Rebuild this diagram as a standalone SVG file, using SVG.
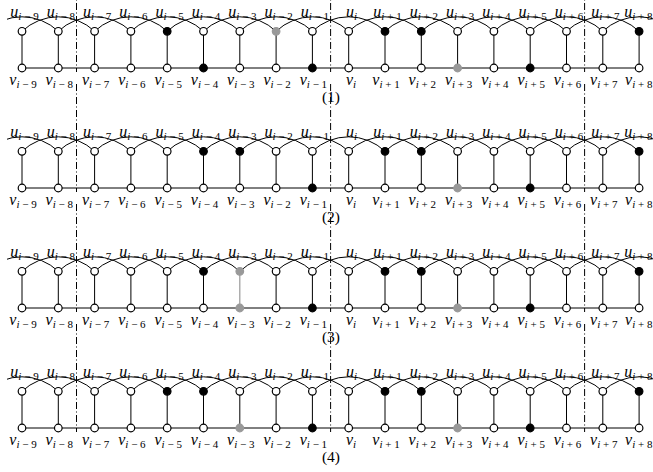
<svg xmlns="http://www.w3.org/2000/svg" width="653" height="472" viewBox="0 0 653 472">
<style>
.a{stroke:#000;stroke-width:1;fill:none}
.e{stroke:#000;stroke-width:1;fill:none}
.eg{stroke:#999;stroke-width:1.2}
.dd{stroke:#000;stroke-width:1;fill:none;stroke-dasharray:7 2.5 1 2.5}
circle{stroke-width:1.2}
circle.w{fill:#fff;stroke:#000}
circle.b{fill:#000;stroke:#000}
circle.g{fill:#999;stroke:#999}
text{font-family:"Liberation Serif","Times New Roman",serif;fill:#000;text-anchor:middle}
text.r{text-anchor:end}
.m{font-style:italic;font-size:16px}
.s{font-style:italic;font-size:11px}
.o{font-style:normal;font-size:11px}
.pl{font-size:15.5px}
</style>
<defs>
<clipPath id="clipL"><rect x="7" y="-60" width="700" height="200"/></clipPath>
</defs>
<rect width="653" height="472" fill="#fff"/>

<!-- ================= PANEL 1 ================= -->
<g id="panel1" transform="translate(0,0)">
<g id="p1-connectors">
<path class="a" clip-path="url(#clipL)" d="M-14.3 31.3A52.7 52.7 0 0 1 58.3 31.3M22 31.3A52.7 52.7 0 0 1 94.6 31.3M58.3 31.3A52.7 52.7 0 0 1 130.9 31.3M94.6 31.3A52.7 52.7 0 0 1 167.2 31.3M130.9 31.3A52.7 52.7 0 0 1 203.5 31.3M167.2 31.3A52.7 52.7 0 0 1 239.8 31.3M203.5 31.3A52.7 52.7 0 0 1 276.1 31.3M239.8 31.3A52.7 52.7 0 0 1 312.4 31.3M276.1 31.3A52.7 52.7 0 0 1 348.7 31.3M312.4 31.3A52.7 52.7 0 0 1 385 31.3M348.7 31.3A52.7 52.7 0 0 1 421.3 31.3M385 31.3A52.7 52.7 0 0 1 457.6 31.3M421.3 31.3A52.7 52.7 0 0 1 493.9 31.3M457.6 31.3A52.7 52.7 0 0 1 530.2 31.3M493.9 31.3A52.7 52.7 0 0 1 566.5 31.3M530.2 31.3A52.7 52.7 0 0 1 602.8 31.3M566.5 31.3A52.7 52.7 0 0 1 639.1 31.3M602.8 31.3A52.7 52.7 0 0 1 675.4 31.3"/>
<path class="e" d="M22 68H639.1"/>
<path class="e" d="M22 31.3V68M58.3 31.3V68M94.6 31.3V68M130.9 31.3V68M167.2 31.3V68M203.5 31.3V68M239.8 31.3V68M276.1 31.3V68M312.4 31.3V68M348.7 31.3V68M385 31.3V68M421.3 31.3V68M457.6 31.3V68M493.9 31.3V68M530.2 31.3V68M566.5 31.3V68M602.8 31.3V68M639.1 31.3V68"/>
<path class="dd" d="M76.5 -36V72M330.6 -36V72M584.6 -36V72"/>
</g>
<g id="p1-u-m9"><circle class="w" cx="22" cy="31.3" r="3.8"/><text x="24.5" y="16.7"><tspan class="m">u</tspan><tspan class="s" dy="3.3">i</tspan><tspan class="o"> − 9</tspan></text></g>
<g id="p1-u-m8"><circle class="w" cx="58.3" cy="31.3" r="3.8"/><text x="60.8" y="16.7"><tspan class="m">u</tspan><tspan class="s" dy="3.3">i</tspan><tspan class="o"> − 8</tspan></text></g>
<g id="p1-u-m7"><circle class="w" cx="94.6" cy="31.3" r="3.8"/><text x="97.1" y="16.7"><tspan class="m">u</tspan><tspan class="s" dy="3.3">i</tspan><tspan class="o"> − 7</tspan></text></g>
<g id="p1-u-m6"><circle class="w" cx="130.9" cy="31.3" r="3.8"/><text x="133.4" y="16.7"><tspan class="m">u</tspan><tspan class="s" dy="3.3">i</tspan><tspan class="o"> − 6</tspan></text></g>
<g id="p1-u-m5"><circle class="b" cx="167.2" cy="31.3" r="3.8"/><text x="169.7" y="16.7"><tspan class="m">u</tspan><tspan class="s" dy="3.3">i</tspan><tspan class="o"> − 5</tspan></text></g>
<g id="p1-u-m4"><circle class="w" cx="203.5" cy="31.3" r="3.8"/><text x="206" y="16.7"><tspan class="m">u</tspan><tspan class="s" dy="3.3">i</tspan><tspan class="o"> − 4</tspan></text></g>
<g id="p1-u-m3"><circle class="w" cx="239.8" cy="31.3" r="3.8"/><text x="242.3" y="16.7"><tspan class="m">u</tspan><tspan class="s" dy="3.3">i</tspan><tspan class="o"> − 3</tspan></text></g>
<g id="p1-u-m2"><circle class="g" cx="276.1" cy="31.3" r="3.8"/><text x="278.6" y="16.7"><tspan class="m">u</tspan><tspan class="s" dy="3.3">i</tspan><tspan class="o"> − 2</tspan></text></g>
<g id="p1-u-m1"><circle class="w" cx="312.4" cy="31.3" r="3.8"/><text x="314.9" y="16.7"><tspan class="m">u</tspan><tspan class="s" dy="3.3">i</tspan><tspan class="o"> − 1</tspan></text></g>
<g id="p1-u-0"><circle class="w" cx="348.7" cy="31.3" r="3.8"/><text x="351.5" y="16.7"><tspan class="m">u</tspan><tspan class="s" dy="3.3">i</tspan></text></g>
<g id="p1-u-p1"><circle class="b" cx="385" cy="31.3" r="3.8"/><text x="387.5" y="16.7"><tspan class="m">u</tspan><tspan class="s" dy="3.3">i</tspan><tspan class="o"> + 1</tspan></text></g>
<g id="p1-u-p2"><circle class="b" cx="421.3" cy="31.3" r="3.8"/><text x="423.8" y="16.7"><tspan class="m">u</tspan><tspan class="s" dy="3.3">i</tspan><tspan class="o"> + 2</tspan></text></g>
<g id="p1-u-p3"><circle class="w" cx="457.6" cy="31.3" r="3.8"/><text x="460.1" y="16.7"><tspan class="m">u</tspan><tspan class="s" dy="3.3">i</tspan><tspan class="o"> + 3</tspan></text></g>
<g id="p1-u-p4"><circle class="w" cx="493.9" cy="31.3" r="3.8"/><text x="496.4" y="16.7"><tspan class="m">u</tspan><tspan class="s" dy="3.3">i</tspan><tspan class="o"> + 4</tspan></text></g>
<g id="p1-u-p5"><circle class="w" cx="530.2" cy="31.3" r="3.8"/><text x="532.7" y="16.7"><tspan class="m">u</tspan><tspan class="s" dy="3.3">i</tspan><tspan class="o"> + 5</tspan></text></g>
<g id="p1-u-p6"><circle class="w" cx="566.5" cy="31.3" r="3.8"/><text x="569" y="16.7"><tspan class="m">u</tspan><tspan class="s" dy="3.3">i</tspan><tspan class="o"> + 6</tspan></text></g>
<g id="p1-u-p7"><circle class="w" cx="602.8" cy="31.3" r="3.8"/><text x="605.3" y="16.7"><tspan class="m">u</tspan><tspan class="s" dy="3.3">i</tspan><tspan class="o"> + 7</tspan></text></g>
<g id="p1-u-p8"><circle class="b" cx="639.1" cy="31.3" r="3.8"/><text class="r" x="652.5" y="16.7"><tspan class="m">u</tspan><tspan class="s" dy="3.3">i</tspan><tspan class="o"> + 8</tspan></text></g>
<g id="p1-v-m9"><circle class="w" cx="22" cy="68" r="3.8"/><text x="23" y="85"><tspan class="m">v</tspan><tspan class="s" dy="3.3">i</tspan><tspan class="o"> − 9</tspan></text></g>
<g id="p1-v-m8"><circle class="w" cx="58.3" cy="68" r="3.8"/><text x="59.3" y="85"><tspan class="m">v</tspan><tspan class="s" dy="3.3">i</tspan><tspan class="o"> − 8</tspan></text></g>
<g id="p1-v-m7"><circle class="w" cx="94.6" cy="68" r="3.8"/><text x="95.6" y="85"><tspan class="m">v</tspan><tspan class="s" dy="3.3">i</tspan><tspan class="o"> − 7</tspan></text></g>
<g id="p1-v-m6"><circle class="w" cx="130.9" cy="68" r="3.8"/><text x="131.9" y="85"><tspan class="m">v</tspan><tspan class="s" dy="3.3">i</tspan><tspan class="o"> − 6</tspan></text></g>
<g id="p1-v-m5"><circle class="w" cx="167.2" cy="68" r="3.8"/><text x="168.2" y="85"><tspan class="m">v</tspan><tspan class="s" dy="3.3">i</tspan><tspan class="o"> − 5</tspan></text></g>
<g id="p1-v-m4"><circle class="b" cx="203.5" cy="68" r="3.8"/><text x="204.5" y="85"><tspan class="m">v</tspan><tspan class="s" dy="3.3">i</tspan><tspan class="o"> − 4</tspan></text></g>
<g id="p1-v-m3"><circle class="w" cx="239.8" cy="68" r="3.8"/><text x="240.8" y="85"><tspan class="m">v</tspan><tspan class="s" dy="3.3">i</tspan><tspan class="o"> − 3</tspan></text></g>
<g id="p1-v-m2"><circle class="w" cx="276.1" cy="68" r="3.8"/><text x="277.1" y="85"><tspan class="m">v</tspan><tspan class="s" dy="3.3">i</tspan><tspan class="o"> − 2</tspan></text></g>
<g id="p1-v-m1"><circle class="b" cx="312.4" cy="68" r="3.8"/><text x="313.4" y="85"><tspan class="m">v</tspan><tspan class="s" dy="3.3">i</tspan><tspan class="o"> − 1</tspan></text></g>
<g id="p1-v-0"><circle class="w" cx="348.7" cy="68" r="3.8"/><text x="351" y="85"><tspan class="m">v</tspan><tspan class="s" dy="3.3">i</tspan></text></g>
<g id="p1-v-p1"><circle class="w" cx="385" cy="68" r="3.8"/><text x="386" y="85"><tspan class="m">v</tspan><tspan class="s" dy="3.3">i</tspan><tspan class="o"> + 1</tspan></text></g>
<g id="p1-v-p2"><circle class="w" cx="421.3" cy="68" r="3.8"/><text x="422.3" y="85"><tspan class="m">v</tspan><tspan class="s" dy="3.3">i</tspan><tspan class="o"> + 2</tspan></text></g>
<g id="p1-v-p3"><circle class="g" cx="457.6" cy="68" r="3.8"/><text x="458.6" y="85"><tspan class="m">v</tspan><tspan class="s" dy="3.3">i</tspan><tspan class="o"> + 3</tspan></text></g>
<g id="p1-v-p4"><circle class="w" cx="493.9" cy="68" r="3.8"/><text x="494.9" y="85"><tspan class="m">v</tspan><tspan class="s" dy="3.3">i</tspan><tspan class="o"> + 4</tspan></text></g>
<g id="p1-v-p5"><circle class="b" cx="530.2" cy="68" r="3.8"/><text x="531.2" y="85"><tspan class="m">v</tspan><tspan class="s" dy="3.3">i</tspan><tspan class="o"> + 5</tspan></text></g>
<g id="p1-v-p6"><circle class="w" cx="566.5" cy="68" r="3.8"/><text x="567.5" y="85"><tspan class="m">v</tspan><tspan class="s" dy="3.3">i</tspan><tspan class="o"> + 6</tspan></text></g>
<g id="p1-v-p7"><circle class="w" cx="602.8" cy="68" r="3.8"/><text x="603.8" y="85"><tspan class="m">v</tspan><tspan class="s" dy="3.3">i</tspan><tspan class="o"> + 7</tspan></text></g>
<g id="p1-v-p8"><circle class="w" cx="639.1" cy="68" r="3.8"/><text class="r" x="652.5" y="85"><tspan class="m">v</tspan><tspan class="s" dy="3.3">i</tspan><tspan class="o"> + 8</tspan></text></g>
<text class="pl" x="331" y="102">(1)</text>
</g>

<!-- ================= PANEL 2 ================= -->
<g id="panel2" transform="translate(0,120)">
<g id="p2-connectors">
<path class="a" clip-path="url(#clipL)" d="M-14.3 31.3A52.7 52.7 0 0 1 58.3 31.3M22 31.3A52.7 52.7 0 0 1 94.6 31.3M58.3 31.3A52.7 52.7 0 0 1 130.9 31.3M94.6 31.3A52.7 52.7 0 0 1 167.2 31.3M130.9 31.3A52.7 52.7 0 0 1 203.5 31.3M167.2 31.3A52.7 52.7 0 0 1 239.8 31.3M203.5 31.3A52.7 52.7 0 0 1 276.1 31.3M239.8 31.3A52.7 52.7 0 0 1 312.4 31.3M276.1 31.3A52.7 52.7 0 0 1 348.7 31.3M312.4 31.3A52.7 52.7 0 0 1 385 31.3M348.7 31.3A52.7 52.7 0 0 1 421.3 31.3M385 31.3A52.7 52.7 0 0 1 457.6 31.3M421.3 31.3A52.7 52.7 0 0 1 493.9 31.3M457.6 31.3A52.7 52.7 0 0 1 530.2 31.3M493.9 31.3A52.7 52.7 0 0 1 566.5 31.3M530.2 31.3A52.7 52.7 0 0 1 602.8 31.3M566.5 31.3A52.7 52.7 0 0 1 639.1 31.3M602.8 31.3A52.7 52.7 0 0 1 675.4 31.3"/>
<path class="e" d="M22 68H639.1"/>
<path class="e" d="M22 31.3V68M58.3 31.3V68M94.6 31.3V68M130.9 31.3V68M167.2 31.3V68M203.5 31.3V68M239.8 31.3V68M276.1 31.3V68M312.4 31.3V68M348.7 31.3V68M385 31.3V68M421.3 31.3V68M457.6 31.3V68M493.9 31.3V68M530.2 31.3V68M566.5 31.3V68M602.8 31.3V68M639.1 31.3V68"/>
<path class="dd" d="M76.5 -36V72M330.6 -36V72M584.6 -36V72"/>
</g>
<g id="p2-u-m9"><circle class="w" cx="22" cy="31.3" r="3.8"/><text x="24.5" y="16.7"><tspan class="m">u</tspan><tspan class="s" dy="3.3">i</tspan><tspan class="o"> − 9</tspan></text></g>
<g id="p2-u-m8"><circle class="w" cx="58.3" cy="31.3" r="3.8"/><text x="60.8" y="16.7"><tspan class="m">u</tspan><tspan class="s" dy="3.3">i</tspan><tspan class="o"> − 8</tspan></text></g>
<g id="p2-u-m7"><circle class="w" cx="94.6" cy="31.3" r="3.8"/><text x="97.1" y="16.7"><tspan class="m">u</tspan><tspan class="s" dy="3.3">i</tspan><tspan class="o"> − 7</tspan></text></g>
<g id="p2-u-m6"><circle class="w" cx="130.9" cy="31.3" r="3.8"/><text x="133.4" y="16.7"><tspan class="m">u</tspan><tspan class="s" dy="3.3">i</tspan><tspan class="o"> − 6</tspan></text></g>
<g id="p2-u-m5"><circle class="w" cx="167.2" cy="31.3" r="3.8"/><text x="169.7" y="16.7"><tspan class="m">u</tspan><tspan class="s" dy="3.3">i</tspan><tspan class="o"> − 5</tspan></text></g>
<g id="p2-u-m4"><circle class="b" cx="203.5" cy="31.3" r="3.8"/><text x="206" y="16.7"><tspan class="m">u</tspan><tspan class="s" dy="3.3">i</tspan><tspan class="o"> − 4</tspan></text></g>
<g id="p2-u-m3"><circle class="b" cx="239.8" cy="31.3" r="3.8"/><text x="242.3" y="16.7"><tspan class="m">u</tspan><tspan class="s" dy="3.3">i</tspan><tspan class="o"> − 3</tspan></text></g>
<g id="p2-u-m2"><circle class="w" cx="276.1" cy="31.3" r="3.8"/><text x="278.6" y="16.7"><tspan class="m">u</tspan><tspan class="s" dy="3.3">i</tspan><tspan class="o"> − 2</tspan></text></g>
<g id="p2-u-m1"><circle class="w" cx="312.4" cy="31.3" r="3.8"/><text x="314.9" y="16.7"><tspan class="m">u</tspan><tspan class="s" dy="3.3">i</tspan><tspan class="o"> − 1</tspan></text></g>
<g id="p2-u-0"><circle class="w" cx="348.7" cy="31.3" r="3.8"/><text x="351.5" y="16.7"><tspan class="m">u</tspan><tspan class="s" dy="3.3">i</tspan></text></g>
<g id="p2-u-p1"><circle class="b" cx="385" cy="31.3" r="3.8"/><text x="387.5" y="16.7"><tspan class="m">u</tspan><tspan class="s" dy="3.3">i</tspan><tspan class="o"> + 1</tspan></text></g>
<g id="p2-u-p2"><circle class="b" cx="421.3" cy="31.3" r="3.8"/><text x="423.8" y="16.7"><tspan class="m">u</tspan><tspan class="s" dy="3.3">i</tspan><tspan class="o"> + 2</tspan></text></g>
<g id="p2-u-p3"><circle class="w" cx="457.6" cy="31.3" r="3.8"/><text x="460.1" y="16.7"><tspan class="m">u</tspan><tspan class="s" dy="3.3">i</tspan><tspan class="o"> + 3</tspan></text></g>
<g id="p2-u-p4"><circle class="w" cx="493.9" cy="31.3" r="3.8"/><text x="496.4" y="16.7"><tspan class="m">u</tspan><tspan class="s" dy="3.3">i</tspan><tspan class="o"> + 4</tspan></text></g>
<g id="p2-u-p5"><circle class="w" cx="530.2" cy="31.3" r="3.8"/><text x="532.7" y="16.7"><tspan class="m">u</tspan><tspan class="s" dy="3.3">i</tspan><tspan class="o"> + 5</tspan></text></g>
<g id="p2-u-p6"><circle class="w" cx="566.5" cy="31.3" r="3.8"/><text x="569" y="16.7"><tspan class="m">u</tspan><tspan class="s" dy="3.3">i</tspan><tspan class="o"> + 6</tspan></text></g>
<g id="p2-u-p7"><circle class="w" cx="602.8" cy="31.3" r="3.8"/><text x="605.3" y="16.7"><tspan class="m">u</tspan><tspan class="s" dy="3.3">i</tspan><tspan class="o"> + 7</tspan></text></g>
<g id="p2-u-p8"><circle class="b" cx="639.1" cy="31.3" r="3.8"/><text class="r" x="652.5" y="16.7"><tspan class="m">u</tspan><tspan class="s" dy="3.3">i</tspan><tspan class="o"> + 8</tspan></text></g>
<g id="p2-v-m9"><circle class="w" cx="22" cy="68" r="3.8"/><text x="23" y="85"><tspan class="m">v</tspan><tspan class="s" dy="3.3">i</tspan><tspan class="o"> − 9</tspan></text></g>
<g id="p2-v-m8"><circle class="w" cx="58.3" cy="68" r="3.8"/><text x="59.3" y="85"><tspan class="m">v</tspan><tspan class="s" dy="3.3">i</tspan><tspan class="o"> − 8</tspan></text></g>
<g id="p2-v-m7"><circle class="w" cx="94.6" cy="68" r="3.8"/><text x="95.6" y="85"><tspan class="m">v</tspan><tspan class="s" dy="3.3">i</tspan><tspan class="o"> − 7</tspan></text></g>
<g id="p2-v-m6"><circle class="w" cx="130.9" cy="68" r="3.8"/><text x="131.9" y="85"><tspan class="m">v</tspan><tspan class="s" dy="3.3">i</tspan><tspan class="o"> − 6</tspan></text></g>
<g id="p2-v-m5"><circle class="w" cx="167.2" cy="68" r="3.8"/><text x="168.2" y="85"><tspan class="m">v</tspan><tspan class="s" dy="3.3">i</tspan><tspan class="o"> − 5</tspan></text></g>
<g id="p2-v-m4"><circle class="w" cx="203.5" cy="68" r="3.8"/><text x="204.5" y="85"><tspan class="m">v</tspan><tspan class="s" dy="3.3">i</tspan><tspan class="o"> − 4</tspan></text></g>
<g id="p2-v-m3"><circle class="w" cx="239.8" cy="68" r="3.8"/><text x="240.8" y="85"><tspan class="m">v</tspan><tspan class="s" dy="3.3">i</tspan><tspan class="o"> − 3</tspan></text></g>
<g id="p2-v-m2"><circle class="w" cx="276.1" cy="68" r="3.8"/><text x="277.1" y="85"><tspan class="m">v</tspan><tspan class="s" dy="3.3">i</tspan><tspan class="o"> − 2</tspan></text></g>
<g id="p2-v-m1"><circle class="b" cx="312.4" cy="68" r="3.8"/><text x="313.4" y="85"><tspan class="m">v</tspan><tspan class="s" dy="3.3">i</tspan><tspan class="o"> − 1</tspan></text></g>
<g id="p2-v-0"><circle class="w" cx="348.7" cy="68" r="3.8"/><text x="351" y="85"><tspan class="m">v</tspan><tspan class="s" dy="3.3">i</tspan></text></g>
<g id="p2-v-p1"><circle class="w" cx="385" cy="68" r="3.8"/><text x="386" y="85"><tspan class="m">v</tspan><tspan class="s" dy="3.3">i</tspan><tspan class="o"> + 1</tspan></text></g>
<g id="p2-v-p2"><circle class="w" cx="421.3" cy="68" r="3.8"/><text x="422.3" y="85"><tspan class="m">v</tspan><tspan class="s" dy="3.3">i</tspan><tspan class="o"> + 2</tspan></text></g>
<g id="p2-v-p3"><circle class="g" cx="457.6" cy="68" r="3.8"/><text x="458.6" y="85"><tspan class="m">v</tspan><tspan class="s" dy="3.3">i</tspan><tspan class="o"> + 3</tspan></text></g>
<g id="p2-v-p4"><circle class="w" cx="493.9" cy="68" r="3.8"/><text x="494.9" y="85"><tspan class="m">v</tspan><tspan class="s" dy="3.3">i</tspan><tspan class="o"> + 4</tspan></text></g>
<g id="p2-v-p5"><circle class="b" cx="530.2" cy="68" r="3.8"/><text x="531.2" y="85"><tspan class="m">v</tspan><tspan class="s" dy="3.3">i</tspan><tspan class="o"> + 5</tspan></text></g>
<g id="p2-v-p6"><circle class="w" cx="566.5" cy="68" r="3.8"/><text x="567.5" y="85"><tspan class="m">v</tspan><tspan class="s" dy="3.3">i</tspan><tspan class="o"> + 6</tspan></text></g>
<g id="p2-v-p7"><circle class="w" cx="602.8" cy="68" r="3.8"/><text x="603.8" y="85"><tspan class="m">v</tspan><tspan class="s" dy="3.3">i</tspan><tspan class="o"> + 7</tspan></text></g>
<g id="p2-v-p8"><circle class="w" cx="639.1" cy="68" r="3.8"/><text class="r" x="652.5" y="85"><tspan class="m">v</tspan><tspan class="s" dy="3.3">i</tspan><tspan class="o"> + 8</tspan></text></g>
<text class="pl" x="331" y="102">(2)</text>
</g>

<!-- ================= PANEL 3 ================= -->
<g id="panel3" transform="translate(0,240)">
<g id="p3-connectors">
<path class="a" clip-path="url(#clipL)" d="M-14.3 31.3A52.7 52.7 0 0 1 58.3 31.3M22 31.3A52.7 52.7 0 0 1 94.6 31.3M58.3 31.3A52.7 52.7 0 0 1 130.9 31.3M94.6 31.3A52.7 52.7 0 0 1 167.2 31.3M130.9 31.3A52.7 52.7 0 0 1 203.5 31.3M167.2 31.3A52.7 52.7 0 0 1 239.8 31.3M203.5 31.3A52.7 52.7 0 0 1 276.1 31.3M239.8 31.3A52.7 52.7 0 0 1 312.4 31.3M276.1 31.3A52.7 52.7 0 0 1 348.7 31.3M312.4 31.3A52.7 52.7 0 0 1 385 31.3M348.7 31.3A52.7 52.7 0 0 1 421.3 31.3M385 31.3A52.7 52.7 0 0 1 457.6 31.3M421.3 31.3A52.7 52.7 0 0 1 493.9 31.3M457.6 31.3A52.7 52.7 0 0 1 530.2 31.3M493.9 31.3A52.7 52.7 0 0 1 566.5 31.3M530.2 31.3A52.7 52.7 0 0 1 602.8 31.3M566.5 31.3A52.7 52.7 0 0 1 639.1 31.3M602.8 31.3A52.7 52.7 0 0 1 675.4 31.3"/>
<path class="e" d="M22 68H639.1"/>
<path class="e" d="M22 31.3V68M58.3 31.3V68M94.6 31.3V68M130.9 31.3V68M167.2 31.3V68M203.5 31.3V68M276.1 31.3V68M312.4 31.3V68M348.7 31.3V68M385 31.3V68M421.3 31.3V68M457.6 31.3V68M493.9 31.3V68M530.2 31.3V68M566.5 31.3V68M602.8 31.3V68M639.1 31.3V68"/>
<path class="e eg" d="M239.8 31.3V68"/>
<path class="dd" d="M76.5 -36V72M330.6 -36V72M584.6 -36V72"/>
</g>
<g id="p3-u-m9"><circle class="w" cx="22" cy="31.3" r="3.8"/><text x="24.5" y="16.7"><tspan class="m">u</tspan><tspan class="s" dy="3.3">i</tspan><tspan class="o"> − 9</tspan></text></g>
<g id="p3-u-m8"><circle class="w" cx="58.3" cy="31.3" r="3.8"/><text x="60.8" y="16.7"><tspan class="m">u</tspan><tspan class="s" dy="3.3">i</tspan><tspan class="o"> − 8</tspan></text></g>
<g id="p3-u-m7"><circle class="w" cx="94.6" cy="31.3" r="3.8"/><text x="97.1" y="16.7"><tspan class="m">u</tspan><tspan class="s" dy="3.3">i</tspan><tspan class="o"> − 7</tspan></text></g>
<g id="p3-u-m6"><circle class="w" cx="130.9" cy="31.3" r="3.8"/><text x="133.4" y="16.7"><tspan class="m">u</tspan><tspan class="s" dy="3.3">i</tspan><tspan class="o"> − 6</tspan></text></g>
<g id="p3-u-m5"><circle class="w" cx="167.2" cy="31.3" r="3.8"/><text x="169.7" y="16.7"><tspan class="m">u</tspan><tspan class="s" dy="3.3">i</tspan><tspan class="o"> − 5</tspan></text></g>
<g id="p3-u-m4"><circle class="b" cx="203.5" cy="31.3" r="3.8"/><text x="206" y="16.7"><tspan class="m">u</tspan><tspan class="s" dy="3.3">i</tspan><tspan class="o"> − 4</tspan></text></g>
<g id="p3-u-m3"><circle class="g" cx="239.8" cy="31.3" r="3.8"/><text x="242.3" y="16.7"><tspan class="m">u</tspan><tspan class="s" dy="3.3">i</tspan><tspan class="o"> − 3</tspan></text></g>
<g id="p3-u-m2"><circle class="w" cx="276.1" cy="31.3" r="3.8"/><text x="278.6" y="16.7"><tspan class="m">u</tspan><tspan class="s" dy="3.3">i</tspan><tspan class="o"> − 2</tspan></text></g>
<g id="p3-u-m1"><circle class="w" cx="312.4" cy="31.3" r="3.8"/><text x="314.9" y="16.7"><tspan class="m">u</tspan><tspan class="s" dy="3.3">i</tspan><tspan class="o"> − 1</tspan></text></g>
<g id="p3-u-0"><circle class="w" cx="348.7" cy="31.3" r="3.8"/><text x="351.5" y="16.7"><tspan class="m">u</tspan><tspan class="s" dy="3.3">i</tspan></text></g>
<g id="p3-u-p1"><circle class="b" cx="385" cy="31.3" r="3.8"/><text x="387.5" y="16.7"><tspan class="m">u</tspan><tspan class="s" dy="3.3">i</tspan><tspan class="o"> + 1</tspan></text></g>
<g id="p3-u-p2"><circle class="b" cx="421.3" cy="31.3" r="3.8"/><text x="423.8" y="16.7"><tspan class="m">u</tspan><tspan class="s" dy="3.3">i</tspan><tspan class="o"> + 2</tspan></text></g>
<g id="p3-u-p3"><circle class="w" cx="457.6" cy="31.3" r="3.8"/><text x="460.1" y="16.7"><tspan class="m">u</tspan><tspan class="s" dy="3.3">i</tspan><tspan class="o"> + 3</tspan></text></g>
<g id="p3-u-p4"><circle class="w" cx="493.9" cy="31.3" r="3.8"/><text x="496.4" y="16.7"><tspan class="m">u</tspan><tspan class="s" dy="3.3">i</tspan><tspan class="o"> + 4</tspan></text></g>
<g id="p3-u-p5"><circle class="w" cx="530.2" cy="31.3" r="3.8"/><text x="532.7" y="16.7"><tspan class="m">u</tspan><tspan class="s" dy="3.3">i</tspan><tspan class="o"> + 5</tspan></text></g>
<g id="p3-u-p6"><circle class="w" cx="566.5" cy="31.3" r="3.8"/><text x="569" y="16.7"><tspan class="m">u</tspan><tspan class="s" dy="3.3">i</tspan><tspan class="o"> + 6</tspan></text></g>
<g id="p3-u-p7"><circle class="w" cx="602.8" cy="31.3" r="3.8"/><text x="605.3" y="16.7"><tspan class="m">u</tspan><tspan class="s" dy="3.3">i</tspan><tspan class="o"> + 7</tspan></text></g>
<g id="p3-u-p8"><circle class="b" cx="639.1" cy="31.3" r="3.8"/><text class="r" x="652.5" y="16.7"><tspan class="m">u</tspan><tspan class="s" dy="3.3">i</tspan><tspan class="o"> + 8</tspan></text></g>
<g id="p3-v-m9"><circle class="w" cx="22" cy="68" r="3.8"/><text x="23" y="85"><tspan class="m">v</tspan><tspan class="s" dy="3.3">i</tspan><tspan class="o"> − 9</tspan></text></g>
<g id="p3-v-m8"><circle class="w" cx="58.3" cy="68" r="3.8"/><text x="59.3" y="85"><tspan class="m">v</tspan><tspan class="s" dy="3.3">i</tspan><tspan class="o"> − 8</tspan></text></g>
<g id="p3-v-m7"><circle class="w" cx="94.6" cy="68" r="3.8"/><text x="95.6" y="85"><tspan class="m">v</tspan><tspan class="s" dy="3.3">i</tspan><tspan class="o"> − 7</tspan></text></g>
<g id="p3-v-m6"><circle class="w" cx="130.9" cy="68" r="3.8"/><text x="131.9" y="85"><tspan class="m">v</tspan><tspan class="s" dy="3.3">i</tspan><tspan class="o"> − 6</tspan></text></g>
<g id="p3-v-m5"><circle class="w" cx="167.2" cy="68" r="3.8"/><text x="168.2" y="85"><tspan class="m">v</tspan><tspan class="s" dy="3.3">i</tspan><tspan class="o"> − 5</tspan></text></g>
<g id="p3-v-m4"><circle class="w" cx="203.5" cy="68" r="3.8"/><text x="204.5" y="85"><tspan class="m">v</tspan><tspan class="s" dy="3.3">i</tspan><tspan class="o"> − 4</tspan></text></g>
<g id="p3-v-m3"><circle class="g" cx="239.8" cy="68" r="3.8"/><text x="240.8" y="85"><tspan class="m">v</tspan><tspan class="s" dy="3.3">i</tspan><tspan class="o"> − 3</tspan></text></g>
<g id="p3-v-m2"><circle class="w" cx="276.1" cy="68" r="3.8"/><text x="277.1" y="85"><tspan class="m">v</tspan><tspan class="s" dy="3.3">i</tspan><tspan class="o"> − 2</tspan></text></g>
<g id="p3-v-m1"><circle class="b" cx="312.4" cy="68" r="3.8"/><text x="313.4" y="85"><tspan class="m">v</tspan><tspan class="s" dy="3.3">i</tspan><tspan class="o"> − 1</tspan></text></g>
<g id="p3-v-0"><circle class="w" cx="348.7" cy="68" r="3.8"/><text x="351" y="85"><tspan class="m">v</tspan><tspan class="s" dy="3.3">i</tspan></text></g>
<g id="p3-v-p1"><circle class="w" cx="385" cy="68" r="3.8"/><text x="386" y="85"><tspan class="m">v</tspan><tspan class="s" dy="3.3">i</tspan><tspan class="o"> + 1</tspan></text></g>
<g id="p3-v-p2"><circle class="w" cx="421.3" cy="68" r="3.8"/><text x="422.3" y="85"><tspan class="m">v</tspan><tspan class="s" dy="3.3">i</tspan><tspan class="o"> + 2</tspan></text></g>
<g id="p3-v-p3"><circle class="g" cx="457.6" cy="68" r="3.8"/><text x="458.6" y="85"><tspan class="m">v</tspan><tspan class="s" dy="3.3">i</tspan><tspan class="o"> + 3</tspan></text></g>
<g id="p3-v-p4"><circle class="w" cx="493.9" cy="68" r="3.8"/><text x="494.9" y="85"><tspan class="m">v</tspan><tspan class="s" dy="3.3">i</tspan><tspan class="o"> + 4</tspan></text></g>
<g id="p3-v-p5"><circle class="b" cx="530.2" cy="68" r="3.8"/><text x="531.2" y="85"><tspan class="m">v</tspan><tspan class="s" dy="3.3">i</tspan><tspan class="o"> + 5</tspan></text></g>
<g id="p3-v-p6"><circle class="w" cx="566.5" cy="68" r="3.8"/><text x="567.5" y="85"><tspan class="m">v</tspan><tspan class="s" dy="3.3">i</tspan><tspan class="o"> + 6</tspan></text></g>
<g id="p3-v-p7"><circle class="w" cx="602.8" cy="68" r="3.8"/><text x="603.8" y="85"><tspan class="m">v</tspan><tspan class="s" dy="3.3">i</tspan><tspan class="o"> + 7</tspan></text></g>
<g id="p3-v-p8"><circle class="w" cx="639.1" cy="68" r="3.8"/><text class="r" x="652.5" y="85"><tspan class="m">v</tspan><tspan class="s" dy="3.3">i</tspan><tspan class="o"> + 8</tspan></text></g>
<text class="pl" x="331" y="102">(3)</text>
</g>

<!-- ================= PANEL 4 ================= -->
<g id="panel4" transform="translate(0,360)">
<g id="p4-connectors">
<path class="a" clip-path="url(#clipL)" d="M-14.3 31.3A52.7 52.7 0 0 1 58.3 31.3M22 31.3A52.7 52.7 0 0 1 94.6 31.3M58.3 31.3A52.7 52.7 0 0 1 130.9 31.3M94.6 31.3A52.7 52.7 0 0 1 167.2 31.3M130.9 31.3A52.7 52.7 0 0 1 203.5 31.3M167.2 31.3A52.7 52.7 0 0 1 239.8 31.3M203.5 31.3A52.7 52.7 0 0 1 276.1 31.3M239.8 31.3A52.7 52.7 0 0 1 312.4 31.3M276.1 31.3A52.7 52.7 0 0 1 348.7 31.3M312.4 31.3A52.7 52.7 0 0 1 385 31.3M348.7 31.3A52.7 52.7 0 0 1 421.3 31.3M385 31.3A52.7 52.7 0 0 1 457.6 31.3M421.3 31.3A52.7 52.7 0 0 1 493.9 31.3M457.6 31.3A52.7 52.7 0 0 1 530.2 31.3M493.9 31.3A52.7 52.7 0 0 1 566.5 31.3M530.2 31.3A52.7 52.7 0 0 1 602.8 31.3M566.5 31.3A52.7 52.7 0 0 1 639.1 31.3M602.8 31.3A52.7 52.7 0 0 1 675.4 31.3"/>
<path class="e" d="M22 68H639.1"/>
<path class="e" d="M22 31.3V68M58.3 31.3V68M94.6 31.3V68M130.9 31.3V68M167.2 31.3V68M203.5 31.3V68M239.8 31.3V68M276.1 31.3V68M312.4 31.3V68M348.7 31.3V68M385 31.3V68M421.3 31.3V68M457.6 31.3V68M493.9 31.3V68M530.2 31.3V68M566.5 31.3V68M602.8 31.3V68M639.1 31.3V68"/>
<path class="dd" d="M76.5 -36V72M330.6 -36V72M584.6 -36V72"/>
</g>
<g id="p4-u-m9"><circle class="w" cx="22" cy="31.3" r="3.8"/><text x="24.5" y="16.7"><tspan class="m">u</tspan><tspan class="s" dy="3.3">i</tspan><tspan class="o"> − 9</tspan></text></g>
<g id="p4-u-m8"><circle class="w" cx="58.3" cy="31.3" r="3.8"/><text x="60.8" y="16.7"><tspan class="m">u</tspan><tspan class="s" dy="3.3">i</tspan><tspan class="o"> − 8</tspan></text></g>
<g id="p4-u-m7"><circle class="w" cx="94.6" cy="31.3" r="3.8"/><text x="97.1" y="16.7"><tspan class="m">u</tspan><tspan class="s" dy="3.3">i</tspan><tspan class="o"> − 7</tspan></text></g>
<g id="p4-u-m6"><circle class="w" cx="130.9" cy="31.3" r="3.8"/><text x="133.4" y="16.7"><tspan class="m">u</tspan><tspan class="s" dy="3.3">i</tspan><tspan class="o"> − 6</tspan></text></g>
<g id="p4-u-m5"><circle class="b" cx="167.2" cy="31.3" r="3.8"/><text x="169.7" y="16.7"><tspan class="m">u</tspan><tspan class="s" dy="3.3">i</tspan><tspan class="o"> − 5</tspan></text></g>
<g id="p4-u-m4"><circle class="b" cx="203.5" cy="31.3" r="3.8"/><text x="206" y="16.7"><tspan class="m">u</tspan><tspan class="s" dy="3.3">i</tspan><tspan class="o"> − 4</tspan></text></g>
<g id="p4-u-m3"><circle class="w" cx="239.8" cy="31.3" r="3.8"/><text x="242.3" y="16.7"><tspan class="m">u</tspan><tspan class="s" dy="3.3">i</tspan><tspan class="o"> − 3</tspan></text></g>
<g id="p4-u-m2"><circle class="w" cx="276.1" cy="31.3" r="3.8"/><text x="278.6" y="16.7"><tspan class="m">u</tspan><tspan class="s" dy="3.3">i</tspan><tspan class="o"> − 2</tspan></text></g>
<g id="p4-u-m1"><circle class="w" cx="312.4" cy="31.3" r="3.8"/><text x="314.9" y="16.7"><tspan class="m">u</tspan><tspan class="s" dy="3.3">i</tspan><tspan class="o"> − 1</tspan></text></g>
<g id="p4-u-0"><circle class="w" cx="348.7" cy="31.3" r="3.8"/><text x="351.5" y="16.7"><tspan class="m">u</tspan><tspan class="s" dy="3.3">i</tspan></text></g>
<g id="p4-u-p1"><circle class="b" cx="385" cy="31.3" r="3.8"/><text x="387.5" y="16.7"><tspan class="m">u</tspan><tspan class="s" dy="3.3">i</tspan><tspan class="o"> + 1</tspan></text></g>
<g id="p4-u-p2"><circle class="b" cx="421.3" cy="31.3" r="3.8"/><text x="423.8" y="16.7"><tspan class="m">u</tspan><tspan class="s" dy="3.3">i</tspan><tspan class="o"> + 2</tspan></text></g>
<g id="p4-u-p3"><circle class="w" cx="457.6" cy="31.3" r="3.8"/><text x="460.1" y="16.7"><tspan class="m">u</tspan><tspan class="s" dy="3.3">i</tspan><tspan class="o"> + 3</tspan></text></g>
<g id="p4-u-p4"><circle class="w" cx="493.9" cy="31.3" r="3.8"/><text x="496.4" y="16.7"><tspan class="m">u</tspan><tspan class="s" dy="3.3">i</tspan><tspan class="o"> + 4</tspan></text></g>
<g id="p4-u-p5"><circle class="w" cx="530.2" cy="31.3" r="3.8"/><text x="532.7" y="16.7"><tspan class="m">u</tspan><tspan class="s" dy="3.3">i</tspan><tspan class="o"> + 5</tspan></text></g>
<g id="p4-u-p6"><circle class="w" cx="566.5" cy="31.3" r="3.8"/><text x="569" y="16.7"><tspan class="m">u</tspan><tspan class="s" dy="3.3">i</tspan><tspan class="o"> + 6</tspan></text></g>
<g id="p4-u-p7"><circle class="w" cx="602.8" cy="31.3" r="3.8"/><text x="605.3" y="16.7"><tspan class="m">u</tspan><tspan class="s" dy="3.3">i</tspan><tspan class="o"> + 7</tspan></text></g>
<g id="p4-u-p8"><circle class="b" cx="639.1" cy="31.3" r="3.8"/><text class="r" x="652.5" y="16.7"><tspan class="m">u</tspan><tspan class="s" dy="3.3">i</tspan><tspan class="o"> + 8</tspan></text></g>
<g id="p4-v-m9"><circle class="w" cx="22" cy="68" r="3.8"/><text x="23" y="85"><tspan class="m">v</tspan><tspan class="s" dy="3.3">i</tspan><tspan class="o"> − 9</tspan></text></g>
<g id="p4-v-m8"><circle class="w" cx="58.3" cy="68" r="3.8"/><text x="59.3" y="85"><tspan class="m">v</tspan><tspan class="s" dy="3.3">i</tspan><tspan class="o"> − 8</tspan></text></g>
<g id="p4-v-m7"><circle class="w" cx="94.6" cy="68" r="3.8"/><text x="95.6" y="85"><tspan class="m">v</tspan><tspan class="s" dy="3.3">i</tspan><tspan class="o"> − 7</tspan></text></g>
<g id="p4-v-m6"><circle class="w" cx="130.9" cy="68" r="3.8"/><text x="131.9" y="85"><tspan class="m">v</tspan><tspan class="s" dy="3.3">i</tspan><tspan class="o"> − 6</tspan></text></g>
<g id="p4-v-m5"><circle class="w" cx="167.2" cy="68" r="3.8"/><text x="168.2" y="85"><tspan class="m">v</tspan><tspan class="s" dy="3.3">i</tspan><tspan class="o"> − 5</tspan></text></g>
<g id="p4-v-m4"><circle class="w" cx="203.5" cy="68" r="3.8"/><text x="204.5" y="85"><tspan class="m">v</tspan><tspan class="s" dy="3.3">i</tspan><tspan class="o"> − 4</tspan></text></g>
<g id="p4-v-m3"><circle class="g" cx="239.8" cy="68" r="3.8"/><text x="240.8" y="85"><tspan class="m">v</tspan><tspan class="s" dy="3.3">i</tspan><tspan class="o"> − 3</tspan></text></g>
<g id="p4-v-m2"><circle class="w" cx="276.1" cy="68" r="3.8"/><text x="277.1" y="85"><tspan class="m">v</tspan><tspan class="s" dy="3.3">i</tspan><tspan class="o"> − 2</tspan></text></g>
<g id="p4-v-m1"><circle class="b" cx="312.4" cy="68" r="3.8"/><text x="313.4" y="85"><tspan class="m">v</tspan><tspan class="s" dy="3.3">i</tspan><tspan class="o"> − 1</tspan></text></g>
<g id="p4-v-0"><circle class="w" cx="348.7" cy="68" r="3.8"/><text x="351" y="85"><tspan class="m">v</tspan><tspan class="s" dy="3.3">i</tspan></text></g>
<g id="p4-v-p1"><circle class="w" cx="385" cy="68" r="3.8"/><text x="386" y="85"><tspan class="m">v</tspan><tspan class="s" dy="3.3">i</tspan><tspan class="o"> + 1</tspan></text></g>
<g id="p4-v-p2"><circle class="w" cx="421.3" cy="68" r="3.8"/><text x="422.3" y="85"><tspan class="m">v</tspan><tspan class="s" dy="3.3">i</tspan><tspan class="o"> + 2</tspan></text></g>
<g id="p4-v-p3"><circle class="g" cx="457.6" cy="68" r="3.8"/><text x="458.6" y="85"><tspan class="m">v</tspan><tspan class="s" dy="3.3">i</tspan><tspan class="o"> + 3</tspan></text></g>
<g id="p4-v-p4"><circle class="w" cx="493.9" cy="68" r="3.8"/><text x="494.9" y="85"><tspan class="m">v</tspan><tspan class="s" dy="3.3">i</tspan><tspan class="o"> + 4</tspan></text></g>
<g id="p4-v-p5"><circle class="b" cx="530.2" cy="68" r="3.8"/><text x="531.2" y="85"><tspan class="m">v</tspan><tspan class="s" dy="3.3">i</tspan><tspan class="o"> + 5</tspan></text></g>
<g id="p4-v-p6"><circle class="w" cx="566.5" cy="68" r="3.8"/><text x="567.5" y="85"><tspan class="m">v</tspan><tspan class="s" dy="3.3">i</tspan><tspan class="o"> + 6</tspan></text></g>
<g id="p4-v-p7"><circle class="w" cx="602.8" cy="68" r="3.8"/><text x="603.8" y="85"><tspan class="m">v</tspan><tspan class="s" dy="3.3">i</tspan><tspan class="o"> + 7</tspan></text></g>
<g id="p4-v-p8"><circle class="w" cx="639.1" cy="68" r="3.8"/><text class="r" x="652.5" y="85"><tspan class="m">v</tspan><tspan class="s" dy="3.3">i</tspan><tspan class="o"> + 8</tspan></text></g>
<text class="pl" x="331" y="102">(4)</text>
</g>
</svg>
